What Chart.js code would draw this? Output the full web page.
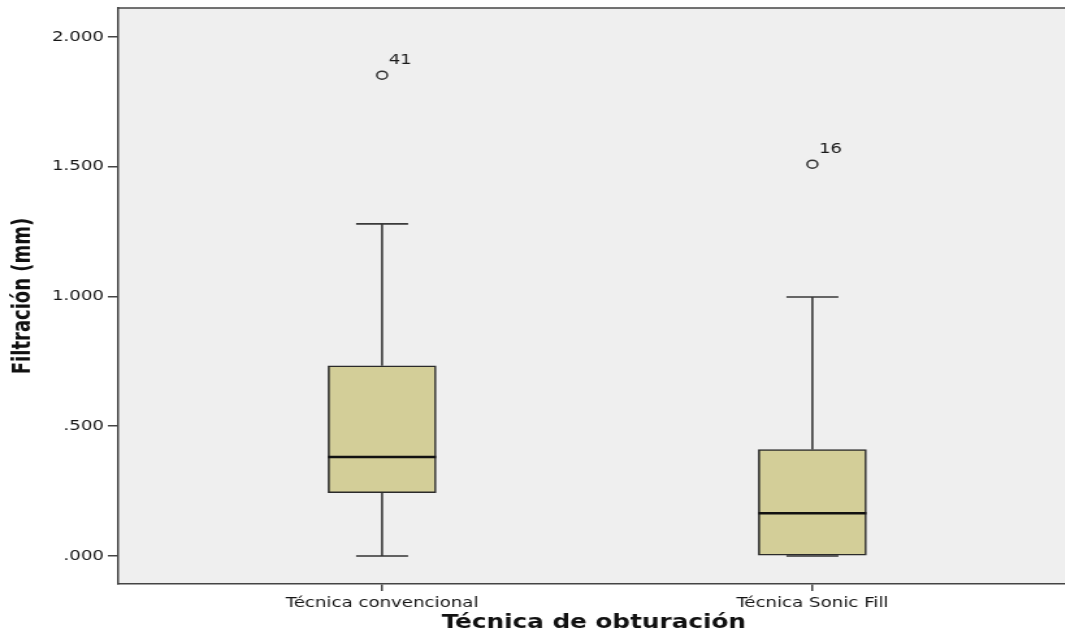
<!DOCTYPE html>
<html>
<head>
<meta charset="utf-8">
<script src="https://cdn.jsdelivr.net/npm/chart.js@4.4.1/dist/chart.umd.min.js"></script>
<style>
    html, body { margin: 0; padding: 0; background: #ffffff; overflow: hidden; }
    #wrap { width: 828px; height: 643px; transform: scaleX(1.3); transform-origin: 0 0; }
</style>
</head>
<body>
<div id="wrap"><canvas id="boxplot" width="828" height="643"></canvas></div>
<script>
// groups (x positions 1 and 2)
const categories = ["Técnica convencional", "Técnica Sonic Fill"];
const positions = [1, 2];

// box plot summary per group
const whiskerLow = [0.000, 0.000];
const q1 = [0.244, 0.000];
const median = [0.381, 0.165];
const q3 = [0.733, 0.410];
const whiskerHigh = [1.280, 0.998];

// outliers
const outlierX = [1, 2];
const outlierY = [1.853, 1.510];
const outlierIds = ["41", "16"];

const yTicks = [0, 0.5, 1, 1.5, 2];

const BOX_WIDTH = 83;
const CAP_WIDTH = 40;

function fmtTick(v) {
    return v.toFixed(3).replace(/^0\./, ".");
}

const plotBackground = {
    id: "plotBackground",
    beforeDraw(chart) {
        const { ctx, chartArea } = chart;
        ctx.save();
        ctx.fillStyle = "#efefef";
        ctx.fillRect(chartArea.left, chartArea.top, chartArea.right - chartArea.left, chartArea.bottom - chartArea.top);
        ctx.restore();
    },
    afterDraw(chart) {
        const { ctx, chartArea } = chart;
        ctx.save();
        ctx.strokeStyle = "#444";
        ctx.lineWidth = 1.5;
        ctx.beginPath();
        ctx.moveTo(chartArea.left, chartArea.top);
        ctx.lineTo(chartArea.right, chartArea.top);
        ctx.stroke();
        ctx.restore();
    },
};

const boxParts = {
    id: "boxParts",
    beforeDatasetsDraw(chart) {
        const { ctx, scales } = chart;
        const xs = scales.x, ys = scales.y;
        ctx.save();
        ctx.strokeStyle = "#3a3a3a";
        ctx.lineWidth = 1.6;
        positions.forEach((p, i) => {
            const x = xs.getPixelForValue(p);
            ctx.beginPath();
            ctx.moveTo(x, ys.getPixelForValue(q3[i]));
            ctx.lineTo(x, ys.getPixelForValue(whiskerHigh[i]));
            ctx.moveTo(x, ys.getPixelForValue(q1[i]));
            ctx.lineTo(x, ys.getPixelForValue(whiskerLow[i]));
            ctx.moveTo(x - CAP_WIDTH / 2, ys.getPixelForValue(whiskerHigh[i]));
            ctx.lineTo(x + CAP_WIDTH / 2, ys.getPixelForValue(whiskerHigh[i]));
            ctx.stroke();
        });
        ctx.restore();
    },
    afterDatasetsDraw(chart) {
        const { ctx, scales } = chart;
        const xs = scales.x, ys = scales.y;
        ctx.save();
        positions.forEach((p, i) => {
            const x = xs.getPixelForValue(p);
            // lower cap sits on the box edge when it equals q1
            ctx.strokeStyle = "#333";
            ctx.lineWidth = 1.6;
            ctx.beginPath();
            ctx.moveTo(x - CAP_WIDTH / 2, ys.getPixelForValue(whiskerLow[i]));
            ctx.lineTo(x + CAP_WIDTH / 2, ys.getPixelForValue(whiskerLow[i]));
            ctx.stroke();
            ctx.strokeStyle = "#111";
            ctx.lineWidth = 2.5;
            ctx.beginPath();
            ctx.moveTo(x - BOX_WIDTH / 2, ys.getPixelForValue(median[i]));
            ctx.lineTo(x + BOX_WIDTH / 2, ys.getPixelForValue(median[i]));
            ctx.stroke();
        });
        ctx.fillStyle = "#1a1a1a";
        ctx.font = "14px 'DejaVu Sans', sans-serif";
        ctx.textAlign = "left";
        ctx.textBaseline = "middle";
        outlierX.forEach((p, i) => {
            const x = xs.getPixelForValue(p);
            const y = ys.getPixelForValue(outlierY[i]);
            ctx.fillText(outlierIds[i], x + 5, y - 15);
        });
        ctx.restore();
    },
};

function initChart() {
    const ctx = document.getElementById("boxplot").getContext("2d");
    new Chart(ctx, {
        type: "bar",
        data: {
            datasets: [
                {
                    type: "bar",
                    data: positions.map((p, i) => ({ x: p, y: [q1[i], q3[i]] })),
                    backgroundColor: "#d3ce98",
                    borderColor: "#2a2a2a",
                    borderWidth: 1.6,
                    borderSkipped: false,
                    barThickness: BOX_WIDTH,
                },
                {
                    type: "scatter",
                    data: outlierX.map((p, i) => ({ x: p, y: outlierY[i] })),
                    pointStyle: "circle",
                    pointRadius: 4,
                    pointBackgroundColor: "rgba(0,0,0,0)",
                    pointBorderColor: "#333",
                    pointBorderWidth: 1.5,
                },
            ],
        },
        options: {
            responsive: false,
            animation: false,
            layout: { padding: { top: 8, right: 0, left: 0, bottom: 0 } },
            plugins: {
                legend: { display: false },
                tooltip: { enabled: false },
            },
            scales: {
                x: {
                    type: "linear",
                    offset: false,
                    min: 0.387,
                    max: 2.597,
                    afterBuildTicks: (scale) => {
                        scale.ticks = positions.map((v) => ({ value: v }));
                    },
                    afterFit: (scale) => {
                        scale.height = 59;
                        scale.paddingLeft = 0;
                        scale.paddingRight = 0;
                    },
                    ticks: {
                        callback: (v) => categories[positions.indexOf(v)] || "",
                        color: "#151515",
                        font: { family: "'DejaVu Sans', sans-serif", size: 14 },
                        padding: 4,
                        maxRotation: 0,
                    },
                    grid: {
                        display: true,
                        offset: false,
                        drawOnChartArea: false,
                        drawTicks: true,
                        tickLength: 7,
                        color: "#444",
                        lineWidth: 1.5,
                    },
                    border: { display: true, color: "#444", width: 1.5 },
                    title: {
                        display: true,
                        text: "Técnica de obturación",
                        color: "#111",
                        font: { family: "'DejaVu Sans', sans-serif", size: 19, weight: "bold" },
                        padding: { top: 0, bottom: 9 },
                    },
                },
                y: {
                    min: -0.108,
                    max: 2.112,
                    afterBuildTicks: (scale) => {
                        scale.ticks = yTicks.map((v) => ({ value: v }));
                    },
                    afterFit: (scale) => {
                        scale.width = 91;
                        scale.paddingTop = 0;
                        scale.paddingBottom = 0;
                    },
                    ticks: {
                        callback: (v) => fmtTick(v),
                        color: "#151515",
                        font: { family: "'DejaVu Sans', sans-serif", size: 14 },
                        padding: 3,
                    },
                    grid: {
                        display: true,
                        drawOnChartArea: false,
                        drawTicks: true,
                        tickLength: 8,
                        color: "#444",
                        lineWidth: 1.5,
                    },
                    border: { display: true, color: "#444", width: 1.5 },
                    title: {
                        display: true,
                        text: "Filtración (mm)",
                        color: "#111",
                        font: { family: "'DejaVu Sans Condensed', 'Liberation Sans Narrow', 'Liberation Sans', sans-serif", size: 20, weight: "bold" },
                        padding: { top: 6, bottom: 0 },
                    },
                },
            },
        },
        plugins: [plotBackground, boxParts],
    });
}

document.addEventListener("DOMContentLoaded", initChart);
</script>
</body>
</html>
